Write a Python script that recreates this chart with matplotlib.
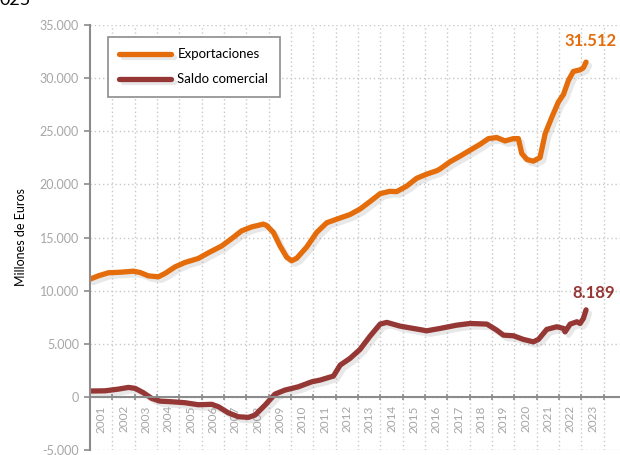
import numpy as np
import matplotlib.pyplot as plt
import matplotlib.patheffects as pe

plt.rcParams['font.family'] = ['Lato', 'DejaVu Sans']

# datos (anio decimal, millones de euros)
exp_t = [2001.00, 2001.37, 2001.82, 2002.42, 2002.94, 2003.24, 2003.61, 2004.06,
         2004.36, 2004.81, 2005.25, 2005.85, 2006.30, 2006.90, 2007.35, 2007.79,
         2008.24, 2008.76, 2008.91, 2009.21, 2009.51, 2009.81, 2010.03, 2010.26,
         2010.70, 2011.15, 2011.60, 2012.20, 2012.64, 2013.09, 2013.54, 2013.99,
         2014.43, 2014.73, 2015.18, 2015.63, 2016.08, 2016.53, 2016.67, 2017.12,
         2017.57, 2018.02, 2018.47, 2018.84, 2019.21, 2019.58, 2019.96, 2020.18,
         2020.33, 2020.56, 2020.85, 2021.15, 2021.38, 2021.68, 2021.97, 2022.20,
         2022.42, 2022.64, 2022.94, 2023.09, 2023.21]
exp_v = [11080, 11390, 11680, 11740, 11830, 11710, 11390, 11300,
         11620, 12240, 12650, 13030, 13560, 14210, 14910, 15630,
         16000, 16260, 16130, 15480, 14190, 13130, 12810, 13060,
         14100, 15480, 16390, 16840, 17160, 17680, 18390, 19130,
         19350, 19320, 19840, 20580, 20970, 21290, 21450, 22130,
         22660, 23220, 23780, 24310, 24410, 24090, 24310, 24310,
         22910, 22340, 22190, 22530, 24780, 26340, 27750, 28470,
         29780, 30630, 30780, 30970, 31512]

sal_t = [2001.00, 2001.67, 2002.27, 2002.72, 2003.02, 2003.39, 2003.76, 2004.13,
         2004.66, 2005.25, 2005.85, 2006.45, 2006.75, 2007.19, 2007.64, 2008.09,
         2008.39, 2008.84, 2009.28, 2009.73, 2010.33, 2010.93, 2011.30, 2011.90,
         2012.20, 2012.64, 2013.09, 2013.54, 2013.99, 2014.29, 2014.88, 2015.48,
         2016.08, 2016.67, 2017.42, 2018.02, 2018.77, 2019.21, 2019.51, 2019.96,
         2020.40, 2020.85, 2021.08, 2021.45, 2021.90, 2022.20, 2022.27, 2022.50,
         2022.80, 2022.94, 2023.09, 2023.21]
sal_v = [550, 570, 730, 890, 800, 390, -140, -400,
         -460, -550, -740, -700, -930, -1500, -1870, -1930,
         -1710, -770, 260, 640, 950, 1420, 1580, 1960,
         2990, 3620, 4470, 5720, 6850, 7010, 6660, 6440,
         6220, 6440, 6750, 6910, 6850, 6280, 5810, 5750,
         5410, 5180, 5410, 6350, 6600, 6440, 6120, 6850,
         7070, 6910, 7380, 8189]

years = list(range(2001, 2024))
yticks = list(range(-5000, 35001, 5000))

c_exp = '#E46C0A'
c_sal = '#953735'
gris = '#8C8C8C'

fig = plt.figure(figsize=(6.2, 4.55), dpi=100)
ax = fig.add_axes([0.1452, 0.011, 0.8548, 0.934])

sombra = [pe.SimpleLineShadow(offset=(2.5, -2.5), shadow_color='#808080', alpha=0.18),
          pe.Normal()]
ax.plot(exp_t, exp_v, color=c_exp, lw=3.8, solid_capstyle='round',
        label='Exportaciones', path_effects=sombra)
ax.plot(sal_t, sal_v, color=c_sal, lw=3.8, solid_capstyle='round',
        label='Saldo comercial', path_effects=sombra)

ax.annotate('{:,}'.format(exp_v[-1]).replace(',', '.'), xy=(exp_t[-1], exp_v[-1]),
            xytext=(4, 21), textcoords='offset pixels', ha='center', va='center',
            color=c_exp, fontsize=12, fontweight='bold')
ax.annotate('{:,}'.format(sal_v[-1]).replace(',', '.'), xy=(sal_t[-1], sal_v[-1]),
            xytext=(8, 17), textcoords='offset pixels', ha='center', va='center',
            color=c_sal, fontsize=12, fontweight='bold')

ax.set_xlim(2001, 2024.73)
ax.set_ylim(-5000, 35000)

ax.set_yticks(yticks)
ax.set_yticklabels(['{:,}'.format(v).replace(',', '.') for v in yticks])
ax.set_xticks(range(2002, 2025))
ax.set_xticklabels([])
ax.set_xticks([y + 0.5 for y in years], minor=True)
ax.set_xticklabels([str(y) for y in years], minor=True)

ax.spines['bottom'].set_position(('data', 0))
ax.spines['top'].set_visible(False)
ax.spines['right'].set_visible(False)
for s in ['left', 'bottom']:
    ax.spines[s].set_color(gris)
    ax.spines[s].set_linewidth(1.5)

ax.tick_params(axis='y', colors=gris, labelcolor='#A6A6A6', labelsize=9,
               direction='out', length=4, width=1.2, pad=4)
ax.tick_params(axis='x', which='major', colors=gris, direction='inout',
               length=5, width=1.2)
ax.tick_params(axis='x', which='minor', length=0, labelcolor='#A6A6A6',
               labelsize=8.5, pad=6, labelrotation=90)

ax.grid(True, which='major', color='#C8C8C8', linestyle=(0, (1, 2)), lw=1.0)
ax.set_axisbelow(True)

ax.set_ylabel('Millones de Euros', fontsize=9, labelpad=9)

leg = ax.legend(loc='upper left', bbox_to_anchor=(0.034, 0.972), borderaxespad=0,
                fancybox=False, framealpha=1, edgecolor=gris, fontsize=9.5,
                handlelength=3.9, borderpad=0.85, labelspacing=1.0,
                handletextpad=0.5)
leg.get_frame().set_linewidth(1.2)

fig.text(0.0, 1.0, '025', ha='left', va='center', fontsize=13)

fig.savefig('out.png', dpi=100)
